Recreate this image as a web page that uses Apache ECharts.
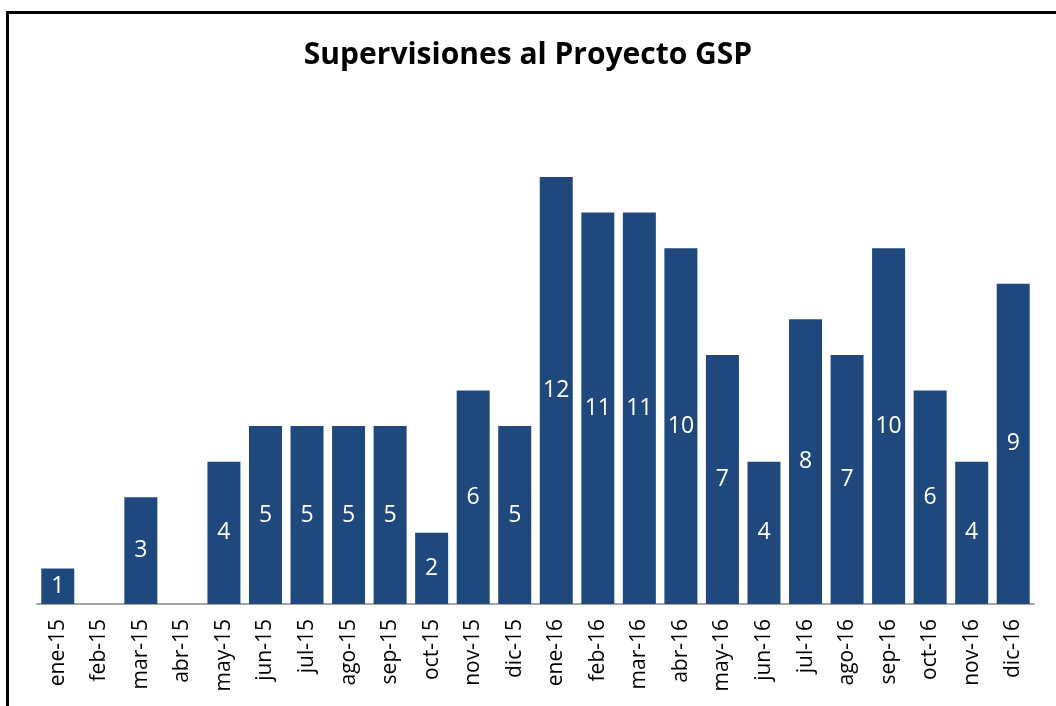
<!DOCTYPE html>
<html>
<head>
<meta charset="utf-8">
<script src="https://cdn.jsdelivr.net/npm/echarts@6/dist/echarts.min.js"></script>
<style>
html,body{margin:0;padding:0;background:#fff;}
#chart{width:1056px;height:706px;}
</style>
</head>
<body>
<div id="chart"></div>
<script>
// meses
var meses = ['ene-15','feb-15','mar-15','abr-15','may-15','jun-15','jul-15','ago-15','sep-15','oct-15','nov-15','dic-15',
             'ene-16','feb-16','mar-16','abr-16','may-16','jun-16','jul-16','ago-16','sep-16','oct-16','nov-16','dic-16'];
// supervisiones por mes
var supervisiones = [1,0,3,0,4,5,5,5,5,2,6,5,12,11,11,10,7,4,8,7,10,6,4,9];

var chart = echarts.init(document.getElementById('chart'));

var option = {
    backgroundColor: '#fff',
    animation: false,
    title: {
        text: 'Supervisiones al Proyecto GSP',
        left: 'center',
        top: 35,
        textStyle: {
            fontFamily: 'Open Sans',
            fontWeight: 'bold',
            fontSize: 30,
            color: '#000'
        }
    },
    graphic: [
        {
            type: 'rect',
            shape: { x: 7.5, y: 12.5, width: 1200, height: 900 },
            style: { fill: 'none', stroke: '#000', lineWidth: 3 },
            silent: true
        }
    ],
    grid: { left: 37, right: 22, top: 177, bottom: 102 },
    xAxis: {
        type: 'category',
        data: meses,
        axisLine: { lineStyle: { color: '#a6a6a6', width: 2 } },
        axisTick: { show: false },
        axisLabel: {
            rotate: 90,
            interval: 0,
            margin: 15,
            fontSize: 21,
            fontFamily: 'Open Sans',
            color: '#000'
        }
    },
    yAxis: {
        type: 'value',
        min: 0,
        max: 12,
        show: false
    },
    series: [
        {
            type: 'bar',
            data: supervisiones,
            barWidth: 33,
            itemStyle: { color: '#1F497D' },
            label: {
                show: true,
                position: 'inside',
                color: '#fff',
                fontSize: 23,
                fontFamily: 'Open Sans',
                formatter: function (p) { return p.value > 0 ? p.value : ''; }
            }
        }
    ]
};
chart.setOption(option);
</script>
</body>
</html>
